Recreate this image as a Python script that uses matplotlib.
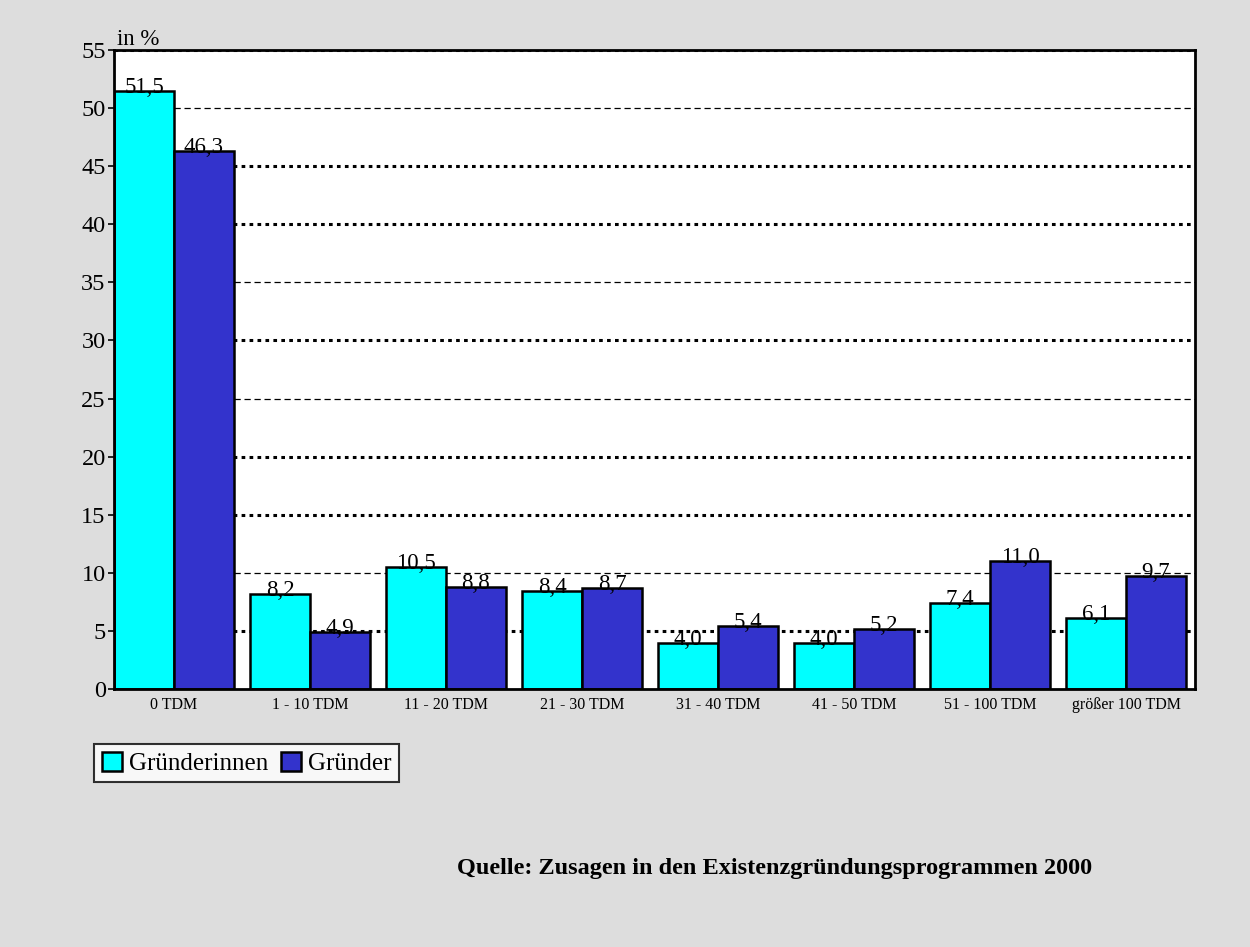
import matplotlib
matplotlib.use("Agg")
import matplotlib.pyplot as plt
import numpy as np

categories = ["0 TDM", "1 - 10 TDM", "11 - 20 TDM", "21 - 30 TDM", "31 - 40 TDM",
              "41 - 50 TDM", "51 - 100 TDM", "größer 100 TDM"]
gruenderinnen = [51.5, 8.2, 10.5, 8.4, 4.0, 4.0, 7.4, 6.1]
gruender = [46.3, 4.9, 8.8, 8.7, 5.4, 5.2, 11.0, 9.7]
thick_grid = [5, 15, 20, 30, 40, 45, 55]
thin_grid = [10, 25, 35, 50]

plt.rcParams['font.family'] = ['Liberation Serif', 'DejaVu Serif']

fig = plt.figure(figsize=(12.5, 9.47), dpi=100)
fig.patch.set_facecolor('#dddddd')
ax = fig.add_axes([0.0912, 0.2724, 0.8648, 0.6748])
ax.set_facecolor('white')

x = np.arange(len(categories))
w = 0.441
for y in thick_grid:
    ax.axhline(y, color='black', lw=2.2, ls=(0, (1.2, 1.4)), zorder=1)
for y in thin_grid:
    ax.axhline(y, color='black', lw=0.9, ls=(0, (5, 3)), zorder=1)

b1 = ax.bar(x - w / 2, gruenderinnen, width=w, color='#00ffff', edgecolor='black', lw=1.8,
            label='Gründerinnen', zorder=3)
b2 = ax.bar(x + w / 2, gruender, width=w, color='#3333cc', edgecolor='black', lw=1.8,
            label='Gründer', zorder=3)

for xs, vals in ((x - w / 2, gruenderinnen), (x + w / 2, gruender)):
    for xi, v in zip(xs, vals):
        ax.text(xi, v - 0.6, f"{v:.1f}".replace('.', ','), ha='center', va='bottom',
                fontsize=16.5, zorder=4)

ax.set_xlim(-0.441, 7 + 0.507)
ax.set_ylim(0, 55)
ax.set_yticks(range(0, 56, 5))
ax.tick_params(axis='y', labelsize=17.5, length=4, width=1.2, pad=2)
ax.set_xticks(x)
ax.set_xticklabels(categories, fontsize=11.5)
ax.tick_params(axis='x', length=0, pad=6)
for s in ax.spines.values():
    s.set_linewidth(2)
    s.set_zorder(5)

ax.text(0.003, 1.0, "in %", fontsize=16.5, ha='left', va='bottom', transform=ax.transAxes)

leg = fig.legend(handles=[b1, b2], loc='upper left', bbox_to_anchor=(94 / 1250, 1 - 744 / 947),
                 ncol=2, fontsize=18, frameon=True, fancybox=False, edgecolor='black',
                 handlelength=0.8, handleheight=0.8, handletextpad=0.3, columnspacing=0.5,
                 borderpad=0.3, borderaxespad=0)
leg.get_frame().set_linewidth(1.5)

fig.text(457 / 1250, 1 - 868 / 947, "Quelle: Zusagen in den Existenzgründungsprogrammen 2000",
         fontsize=17.5, fontweight='bold', ha='left', va='center')

fig.savefig("out.png", dpi=100, facecolor=fig.get_facecolor())
